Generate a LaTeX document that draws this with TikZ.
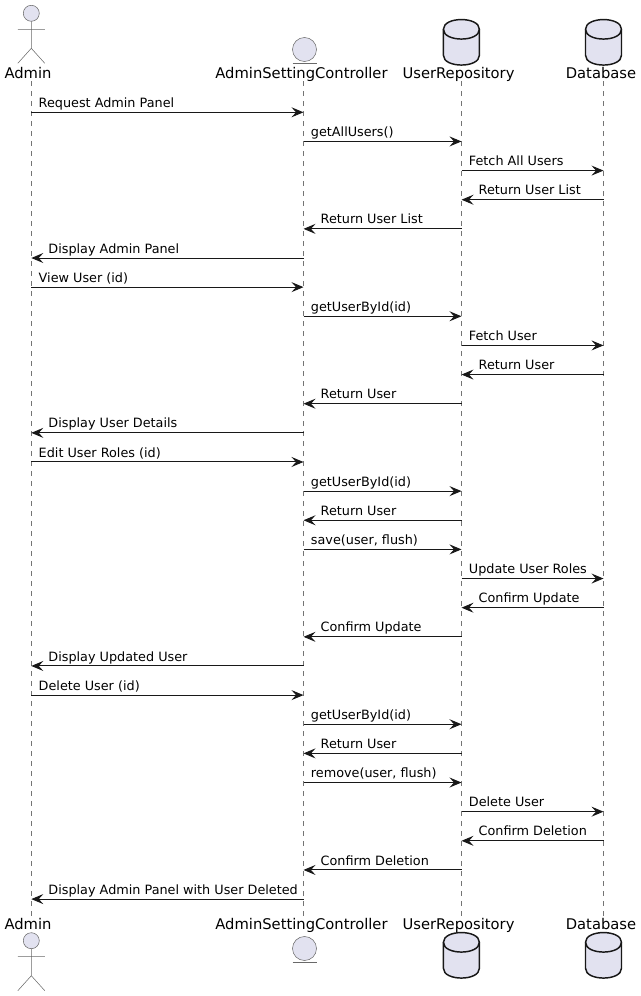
\documentclass[tikz,border=0pt]{standalone}
\usepackage{fontspec}
\setmainfont{DejaVu Sans}
\usetikzlibrary{arrows.meta}
\definecolor{partfill}{HTML}{E2E2F0}
\definecolor{inkline}{HTML}{181818}
\tikzset{
	msg/.style={draw=inkline, line width=.75pt, -{Stealth[length=9pt, width=7.5pt, inset=3.4pt]}},
	lbl/.style={inner sep=0pt, anchor=base west, yshift=3.7pt, font=\fontsize{9.6}{12}\selectfont, text=black},
	lifeline/.style={draw=inkline!60, line width=.4pt, dash pattern=on 3.75pt off 3.75pt},
	partname/.style={inner sep=0pt, anchor=base, font=\fontsize{11.05}{13}\selectfont, text=black},
	outline/.style={draw=inkline!65, line width=.4pt},
	actorman/.pic={
		\draw[outline, fill=partfill] (0,0) circle (8);
		\draw[outline] (0,8) -- (0,35) (-13.5,16) -- (13.5,16) (-13.5,50) -- (0,35) -- (13.5,50);
	},
	entityball/.pic={
		\draw[outline, fill=partfill] (0,0) circle (12);
		\draw[outline] (-12,13.5) -- (12,13.5);
	},
	dbcyl/.pic={
		\draw[draw=inkline, line width=1.1pt, fill=partfill] (-18,10) .. controls (-18,-3) and (18,-3) .. (18,10) -- (18,36) .. controls (18,49) and (-18,49) .. (-18,36) -- cycle;
		\draw[draw=inkline, line width=1.1pt] (-18,10) .. controls (-18,23) and (18,23) .. (18,10);
	},
}
\begin{document}
\begin{tikzpicture}[x=.75pt, y=-.75pt]
	\useasboundingbox (0,0) rectangle (640,996);
	% names
	\node[partname] (adminTop)  at (28,78)    {Admin};
	\node[partname] (ctrlTop)   at (301.5,78) {AdminSettingController};
	\node[partname] (repoTop)   at (458.5,78) {UserRepository};
	\node[partname] (dbTop)     at (601,78)   {Database};
	\node[partname] (adminBot)  at (28,929)    {Admin};
	\node[partname] (ctrlBot)   at (301.5,929) {AdminSettingController};
	\node[partname] (repoBot)   at (458.5,929) {UserRepository};
	\node[partname] (dbBot)     at (601,929)   {Database};
	% lifelines
	\coordinate (lineAt) at (31.3,81);   \coordinate (lineAb) at (31.3,916);
	\coordinate (lineCt) at (303.5,81);  \coordinate (lineCb) at (303.5,916);
	\coordinate (lineRt) at (461.5,81);  \coordinate (lineRb) at (461.5,916);
	\coordinate (lineDt) at (603.5,81);  \coordinate (lineDb) at (603.5,916);
	\draw[lifeline] (lineAt) -- (lineAb);
	\draw[lifeline] (lineCt) -- (lineCb);
	\draw[lifeline] (lineRt) -- (lineRb);
	\draw[lifeline] (lineDt) -- (lineDb);
	% participants
	\pic at (31.3,13.3)   {actorman};
	\pic at (31.3,940.7)  {actorman};
	\pic at (304.5,49.5)  {entityball};
	\pic at (304.5,948.5) {entityball};
	\pic at (461.4,19.3)  {dbcyl};
	\pic at (461.4,932.3) {dbcyl};
	\pic at (603.5,19.3)  {dbcyl};
	\pic at (603.5,932.3) {dbcyl};
	% rows
	\foreach \n in {1,...,28}{
		\pgfmathsetmacro{\rowy}{112.3+(\n-1)*29.14}
		\coordinate (a\n) at (31.3,\rowy);
		\coordinate (c\n) at (303.5,\rowy);
		\coordinate (r\n) at (461.5,\rowy);
		\coordinate (d\n) at (603.5,\rowy);
	}
	% messages
	\draw[msg] (a1) -- (c1)   node[lbl, pos=0, xshift=5.2pt]  {Request Admin Panel};
	\draw[msg] (c2) -- (r2)   node[lbl, pos=0, xshift=5.2pt]  {getAllUsers()};
	\draw[msg] (r3) -- (d3)   node[lbl, pos=0, xshift=5.2pt]  {Fetch All Users};
	\draw[msg] (d4) -- (r4)   node[lbl, pos=1, xshift=12.5pt] {Return User List};
	\draw[msg] (r5) -- (c5)   node[lbl, pos=1, xshift=12.5pt] {Return User List};
	\draw[msg] (c6) -- (a6)   node[lbl, pos=1, xshift=12.5pt] {Display Admin Panel};
	\draw[msg] (a7) -- (c7)   node[lbl, pos=0, xshift=5.2pt]  {View User (id)};
	\draw[msg] (c8) -- (r8)   node[lbl, pos=0, xshift=5.2pt]  {getUserById(id)};
	\draw[msg] (r9) -- (d9)   node[lbl, pos=0, xshift=5.2pt]  {Fetch User};
	\draw[msg] (d10) -- (r10) node[lbl, pos=1, xshift=12.5pt] {Return User};
	\draw[msg] (r11) -- (c11) node[lbl, pos=1, xshift=12.5pt] {Return User};
	\draw[msg] (c12) -- (a12) node[lbl, pos=1, xshift=12.5pt] {Display User Details};
	\draw[msg] (a13) -- (c13) node[lbl, pos=0, xshift=5.2pt]  {Edit User Roles (id)};
	\draw[msg] (c14) -- (r14) node[lbl, pos=0, xshift=5.2pt]  {getUserById(id)};
	\draw[msg] (r15) -- (c15) node[lbl, pos=1, xshift=12.5pt] {Return User};
	\draw[msg] (c16) -- (r16) node[lbl, pos=0, xshift=5.2pt]  {save(user, flush)};
	\draw[msg] (r17) -- (d17) node[lbl, pos=0, xshift=5.2pt]  {Update User Roles};
	\draw[msg] (d18) -- (r18) node[lbl, pos=1, xshift=12.5pt] {Confirm Update};
	\draw[msg] (r19) -- (c19) node[lbl, pos=1, xshift=12.5pt] {Confirm Update};
	\draw[msg] (c20) -- (a20) node[lbl, pos=1, xshift=12.5pt] {Display Updated User};
	\draw[msg] (a21) -- (c21) node[lbl, pos=0, xshift=5.2pt]  {Delete User (id)};
	\draw[msg] (c22) -- (r22) node[lbl, pos=0, xshift=5.2pt]  {getUserById(id)};
	\draw[msg] (r23) -- (c23) node[lbl, pos=1, xshift=12.5pt] {Return User};
	\draw[msg] (c24) -- (r24) node[lbl, pos=0, xshift=5.2pt]  {remove(user, flush)};
	\draw[msg] (r25) -- (d25) node[lbl, pos=0, xshift=5.2pt]  {Delete User};
	\draw[msg] (d26) -- (r26) node[lbl, pos=1, xshift=12.5pt] {Confirm Deletion};
	\draw[msg] (r27) -- (c27) node[lbl, pos=1, xshift=12.5pt] {Confirm Deletion};
	\draw[msg] (c28) -- (a28) node[lbl, pos=1, xshift=12.5pt] {Display Admin Panel with User Deleted};
\end{tikzpicture}
\end{document}
